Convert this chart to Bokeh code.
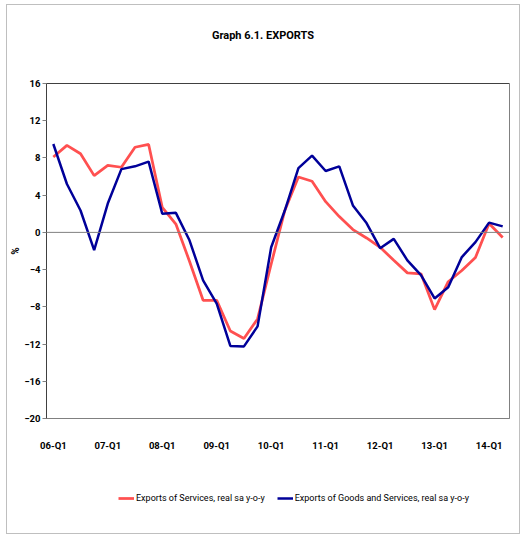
from bokeh.plotting import figure
from bokeh.models import Span, Legend, LegendItem, FixedTicker, Range1d, Div
from bokeh.layouts import column
from bokeh.embed import file_html
from bokeh.resources import INLINE

quarters = ["06-Q1", "06-Q2", "06-Q3", "06-Q4", "07-Q1", "07-Q2", "07-Q3", "07-Q4",
            "08-Q1", "08-Q2", "08-Q3", "08-Q4", "09-Q1", "09-Q2", "09-Q3", "09-Q4",
            "10-Q1", "10-Q2", "10-Q3", "10-Q4", "11-Q1", "11-Q2", "11-Q3", "11-Q4",
            "12-Q1", "12-Q2", "12-Q3", "12-Q4", "13-Q1", "13-Q2", "13-Q3", "13-Q4",
            "14-Q1", "14-Q2"]
services = [8.1, 9.35, 8.45, 6.1, 7.2, 7.0, 9.15, 9.45, 2.7, 0.9, -3.1, -7.3, -7.3,
            -10.6, -11.4, -9.3, -3.4, 2.35, 5.95, 5.5, 3.3, 1.7, 0.3, -0.6, -1.6,
            -3.0, -4.35, -4.45, -8.3, -5.3, -4.1, -2.7, 0.95, -0.55]
goods_services = [9.5, 5.2, 2.35, -1.9, 3.1, 6.8, 7.1, 7.6, 2.0, 2.1, -0.85, -5.15,
                  -7.65, -12.2, -12.25, -10.1, -1.6, 2.35, 6.9, 8.25, 6.6, 7.1, 2.9,
                  1.0, -1.7, -0.7, -3.0, -4.6, -7.1, -5.9, -2.65, -1.05, 1.05, 0.65]
series_names = ["Exports of Services, real sa y-o-y",
                "Exports of Goods and Services, real sa y-o-y"]
y_ticks = [-20, -16, -12, -8, -4, 0, 4, 8, 12, 16]
x_tick_idx = [0, 4, 8, 12, 16, 20, 24, 28, 32]
title_text = "Graph 6.1. EXPORTS"

FONT = "Roboto"
RED = "#FF5050"
BLUE = "#000099"

xs = list(range(len(quarters)))

title_div = Div(text=title_text, width=512, height=62, margin=0,
                styles={"text-align": "center", "font-family": FONT, "font-weight": "bold",
                        "font-size": "11px", "line-height": "62px", "color": "#000000"})

p = figure(width=512, height=396, output_backend="svg", toolbar_location=None,
           x_range=Range1d(-0.5, len(quarters) - 0.5), y_range=Range1d(-20, 16),
           min_border_left=39, min_border_right=10, min_border_top=16,
           min_border_bottom=45)
p.xgrid.visible = False
p.ygrid.visible = False
p.outline_line_color = "#808080"
p.outline_line_width = 1

p.yaxis.ticker = FixedTicker(ticks=y_ticks)
p.yaxis.minor_tick_line_color = None
p.yaxis.major_tick_in = 0
p.yaxis.major_tick_out = 4
p.yaxis.axis_line_color = "#404040"
p.yaxis.major_tick_line_color = "#808080"
p.yaxis.major_label_text_font = FONT
p.yaxis.major_label_text_font_style = "bold"
p.yaxis.major_label_text_font_size = "9.5px"
p.yaxis.major_label_text_color = "#000000"
p.yaxis.major_label_standoff = 2
p.yaxis.axis_label = "%"
p.yaxis.axis_label_text_font = FONT
p.yaxis.axis_label_text_font_style = "bold"
p.yaxis.axis_label_text_font_size = "10px"
p.yaxis.axis_label_text_color = "#000000"
p.yaxis.axis_label_standoff = 0

p.xaxis.ticker = FixedTicker(ticks=x_tick_idx)
p.xaxis.major_label_overrides = {i: quarters[i] for i in x_tick_idx}
p.xaxis.minor_tick_line_color = None
p.xaxis.major_tick_in = 0
p.xaxis.major_tick_out = 0
p.xaxis.axis_line_color = "#808080"
p.xaxis.major_label_text_font = FONT
p.xaxis.major_label_text_font_style = "bold"
p.xaxis.major_label_text_font_size = "9.5px"
p.xaxis.major_label_text_color = "#000000"
p.xaxis.major_label_standoff = 21

p.add_layout(Span(location=0, dimension="width", line_color="#808080", line_width=1))
p.add_layout(Span(location=16, dimension="width", line_color="#000000", line_width=1))

p.line(xs, services, line_color=RED, line_width=2.75)
p.line(xs, goods_services, line_color=BLUE, line_width=2.5)

# legend strip below the chart (its renderers sit outside the strip's visible range)
p2 = figure(width=512, height=70, output_backend="svg", toolbar_location=None,
            x_axis_location=None, y_axis_location=None,
            x_range=Range1d(-0.5, len(quarters) - 0.5), y_range=Range1d(100, 101),
            min_border_left=0, min_border_right=0, min_border_top=0, min_border_bottom=0)
p2.xgrid.visible = False
p2.ygrid.visible = False
p2.outline_line_color = None
l_s = p2.line(xs, services, line_color=RED, line_width=2.75)
l_g = p2.line(xs, goods_services, line_color=BLUE, line_width=2.5)
legend = Legend(items=[LegendItem(label=series_names[0], renderers=[l_s]),
                       LegendItem(label=series_names[1], renderers=[l_g])],
                orientation="horizontal", location=(72, 28), padding=0, margin=0,
                spacing=12, glyph_width=16, glyph_height=14, label_height=14,
                label_standoff=2, label_text_font=FONT, label_text_font_size="9px",
                label_text_color="#000000", border_line_alpha=0, background_fill_alpha=0)
p2.add_layout(legend)

layout = column(title_div, p, p2, spacing=0)
layout.styles = {"border": "1px solid #bfbfbf", "margin-left": "6px", "margin-top": "4px"}

open("out.html", "w").write(file_html(layout, INLINE))
